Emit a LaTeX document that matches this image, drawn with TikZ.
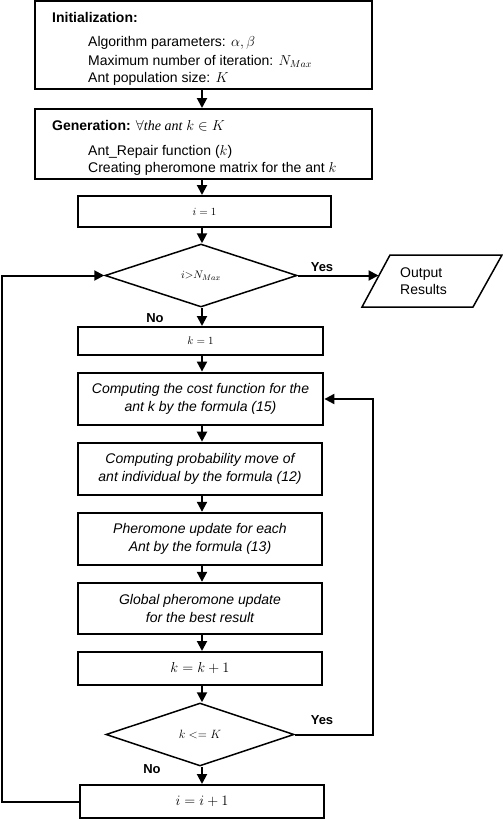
\documentclass[tikz,border=0pt]{standalone}
\usepackage{fontspec}
\setmainfont{Liberation Sans}
\newfontfamily\timesf{Liberation Serif}
\usetikzlibrary{shapes.geometric,arrows.meta}
\begin{document}
\begin{tikzpicture}[x=1pt,y=-1pt,
  box/.style={draw, line width=2pt, inner sep=0pt, align=center, font=\fontsize{14}{18}\selectfont},
  ibox/.style={box, font=\fontsize{14}{18}\selectfont\itshape},
  dia/.style={draw, diamond, line width=1.5pt, inner sep=0pt, font=\fontsize{13}{15}\selectfont},
  txt/.style={inner sep=0pt, anchor=base west, font=\fontsize{14}{16}\selectfont},
  lbl/.style={inner sep=0pt, font=\fontsize{13}{15}\selectfont\bfseries},
  arr/.style={line width=2pt, -{Triangle[length=10pt,width=10pt]}},
  para/.style={draw, line width=1.5pt, line join=miter}]
\useasboundingbox (0,0) rectangle (503,819);
% boxes
\node[box, minimum width=337pt, minimum height=88pt] (init) at (203.5,45) {};
\node[txt] (t1) at (52,22) {\textbf{Initialization:}};
\node[txt] (t2) at (88,46) {Algorithm parameters: $\alpha,\beta$};
\node[txt] (t3) at (88,65.5) {Maximum number of iteration: $N_{Max}$};
\node[txt] (t4) at (88,82) {Ant population size: $K$};
\node[box, minimum width=337pt, minimum height=70pt] (gen) at (203.5,144) {};
\node[txt] (g1) at (52,130) {\textbf{Generation:} $\forall${\timesf\itshape the ant} $k\in K$};
\node[txt] (g2) at (88,155) {Ant\_Repair function ($k$)};
\node[txt] (g3) at (88,172) {Creating pheromone matrix for the ant $k$};
\node[box, font=\fontsize{11}{13}\selectfont, minimum width=253pt, minimum height=31pt] (i1) at (204.5,211.5) {$i = 1$};
\node[dia, font=\fontsize{11}{13}\selectfont, minimum width=192pt, minimum height=63pt] (d1) at (201,275.5) {$i{>}N_{Max}$};
% output parallelogram
\coordinate (o1) at (362,307);
\coordinate (o2) at (390,255);
\coordinate (o3) at (502,255);
\coordinate (o4) at (473,307);
\coordinate (oin) at (378.5,275.5);
\draw[para] (o1) -- (o2) -- (o3) -- (o4) -- cycle;
\node[inner sep=0pt, align=left, anchor=west, font=\fontsize{14}{17}\selectfont] (outt) at (400,281) {Output\\Results};
\node[box, font=\fontsize{11}{13}\selectfont, minimum width=245pt, minimum height=28pt] (k1) at (200.5,341) {$k = 1$};
\node[ibox, line width=2.8pt, minimum width=245pt, minimum height=52pt] (cost) at (200.5,399) {Computing the cost function for the\\ ant k by the formula (15)};
\node[ibox, line width=2.6pt, minimum width=244pt, minimum height=52pt] (prob) at (200,469) {Computing probability move of\\ ant individual by the formula (12)};
\node[ibox, line width=2.4pt, minimum width=244pt, minimum height=52pt] (pher) at (200,539) {Pheromone update for each\\ Ant by the formula (13)};
\node[ibox, line width=2.4pt, minimum width=244pt, minimum height=51pt] (glob) at (200,608.5) {Global pheromone update\\ for the best result};
\node[box, minimum width=244pt, minimum height=33pt] (kk1) at (200,668.5) {$k = k + 1$};
\node[dia, minimum width=188pt, minimum height=63pt] (d2) at (200,734.5) {$k <= K$};
\node[box, minimum width=244pt, minimum height=33pt] (ii1) at (202,801.5) {$i = i + 1$};
% labels
\node[lbl] (yes1) at (322,267) {Yes};
\node[lbl] (no1) at (155,318) {No};
\node[lbl] (yes2) at (322,720) {Yes};
\node[lbl] (no2) at (152,769) {No};
% connectors
\coordinate (c) at (202,0);
\coordinate (r) at (373,0);
\coordinate (l) at (2,0);
\draw[arr] (init.south -| c) -- (gen.north -| c);
\draw[arr] (gen.south -| c) -- (i1.north -| c);
\draw[arr] (i1.south -| c) -- (d1.north -| c);
\draw[arr] (d1.east) -- (oin);
\draw[arr] (d1.south -| c) -- (k1.north -| c);
\draw[arr] (k1.south -| c) -- (cost.north -| c);
\draw[arr] (cost.south -| c) -- (prob.north -| c);
\draw[arr] (prob.south -| c) -- (pher.north -| c);
\draw[arr] (pher.south -| c) -- (glob.north -| c);
\draw[arr] (glob.south -| c) -- (kk1.north -| c);
\draw[arr] (kk1.south -| c) -- (d2.north -| c);
\draw[arr] (d2.south -| c) -- (ii1.north -| c);
\draw[arr] (d2.east) -- (d2.east -| r) |- (cost.east);
\draw[arr] (ii1.west) -- (ii1.west -| l) |- (d1.west);
\end{tikzpicture}
\end{document}
